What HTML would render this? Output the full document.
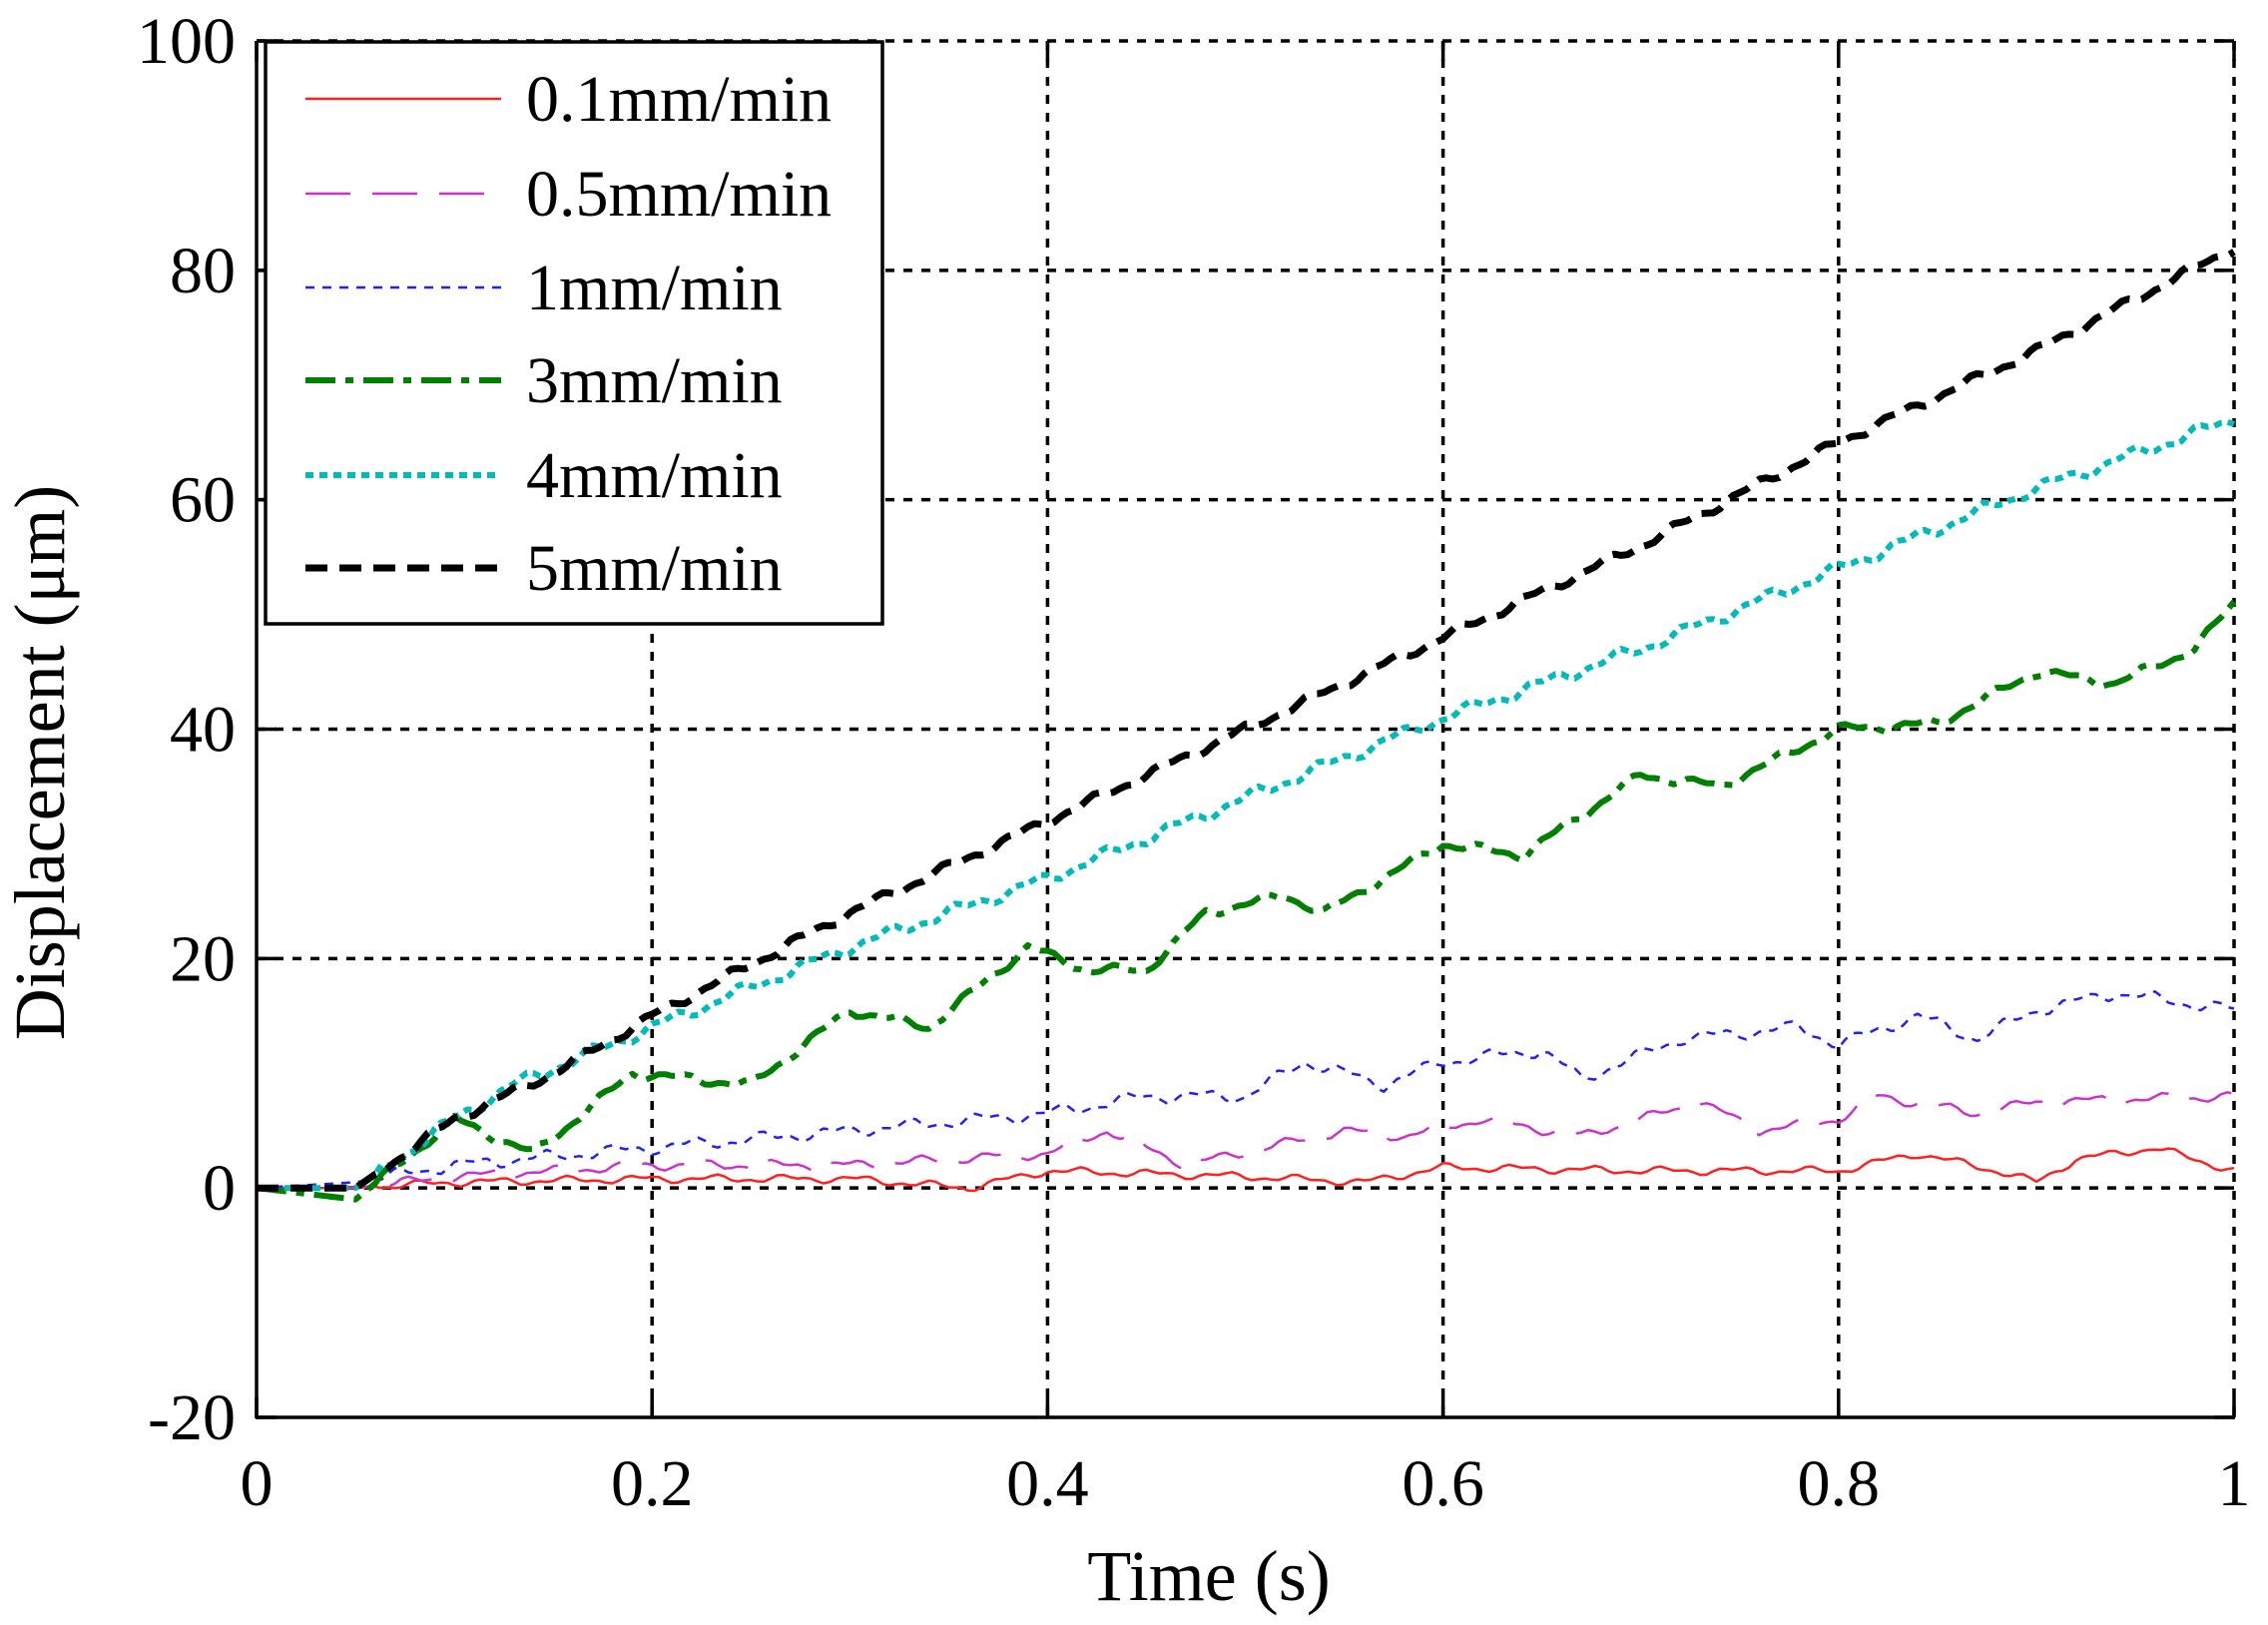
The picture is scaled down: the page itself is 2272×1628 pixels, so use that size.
<!DOCTYPE html>
<html><head><meta charset="utf-8"><style>
html,body{margin:0;padding:0;background:#fff}
svg text{font-family:"Liberation Serif",serif;fill:#000}
</style></head><body>
<svg id="s" width="2272" height="1623" viewBox="0 0 2272 1623" xmlns="http://www.w3.org/2000/svg">
<rect width="2272" height="1623" fill="#fff"/>
<g id="grid" stroke="#000" stroke-width="3.5" stroke-dasharray="9 9" fill="none"></g>
<g id="series" fill="none" stroke-linejoin="round"></g>
<g stroke="#000" stroke-width="3.5" fill="none">
<line x1="257" y1="41" x2="257" y2="1421"/>
<line x1="256" y1="1420" x2="2239" y2="1420"/>
</g>
<g id="ticks" stroke="#000" stroke-width="3.5"></g>
<g id="labels" font-size="66"></g>
<text x="1211" y="1603" font-size="72" text-anchor="middle">Time (s)</text>
<text transform="translate(64,764) rotate(-90)" font-size="72" text-anchor="middle">Displacement (μm)</text>
<rect x="266" y="42" width="618" height="583" fill="#fff" stroke="#000" stroke-width="3.5"/>
<g id="legend" font-size="66"></g>
</svg>
<script>
var L=257,R=2238,T=41,B=1420;
function X(t){return L+t*(R-L);}
function Y(v){return B-(v+20)*(B-T)/120;}
var ns="http://www.w3.org/2000/svg";
function el(p,n,a,txt){var e=document.createElementNS(ns,n);for(var k in a)e.setAttribute(k,a[k]);if(txt!=null)e.textContent=txt;document.getElementById(p).appendChild(e);return e;}
for(var i=1;i<=5;i++){var x=X(i*0.2);el("grid","line",{x1:x,y1:T,x2:x,y2:B});}
for(var v=0;v<=100;v+=20){var y=Y(v);el("grid","line",{x1:L,y1:y,x2:R,y2:y});}
for(var i=0;i<=5;i++){var x=X(i*0.2);el("ticks","line",{x1:x,y1:B,x2:x,y2:B-20});el("ticks","line",{x1:x,y1:T,x2:x,y2:T+20});
 el("labels","text",{x:x,y:1508,"text-anchor":"middle"},["0","0.2","0.4","0.6","0.8","1"][i]);}
for(var v=-20;v<=100;v+=20){var y=Y(v);el("ticks","line",{x1:L,y1:y,x2:L+20,y2:y});el("ticks","line",{x1:R,y1:y,x2:R-20,y2:y});
 el("labels","text",{x:236,y:y+22,"text-anchor":"end"},String(v));}
var S=[
{c:"#ff2020",w:2.5,d:"",n:0.25,lab:"0.1mm/min",p:[[0,0],[0.05,0],[0.1,0.5],[0.2,0.8],[0.3,0.8],[0.36,0],[0.4,1.5],[0.5,1],[0.56,0.5],[0.6,1.8],[0.7,1.5],[0.8,1.5],[0.84,3],[0.88,1.5],[0.9,0.5],[0.92,2.5],[0.96,3.5],[1,1.5]]},
{c:"#cc33cc",w:2.5,d:"45 22",n:0.3,lab:"0.5mm/min",p:[[0,0],[0.05,0],[0.1,1],[0.2,2],[0.3,2],[0.4,3],[0.43,5],[0.47,2],[0.55,5],[0.58,4.5],[0.62,6],[0.67,4.5],[0.73,7.5],[0.76,5],[0.8,6],[0.82,8],[0.87,6.5],[0.9,7.5],[1,8]]},
{c:"#2020ff",w:2.5,d:"9 8",n:0.4,lab:"1mm/min",p:[[0,0],[0.05,0.5],[0.1,2],[0.2,3.5],[0.3,5],[0.4,6.5],[0.45,8],[0.5,8],[0.53,11],[0.57,9],[0.6,11],[0.65,12],[0.67,9.5],[0.72,13],[0.78,14],[0.8,12.5],[0.84,15],[0.87,13],[0.9,15.5],[0.94,17],[1,15.5]]},
{c:"#008000",w:6,d:"30 10 8 10",n:0.3,lab:"3mm/min",p:[[0,0],[0.05,-1],[0.1,6],[0.14,3],[0.19,10],[0.25,9],[0.3,15.5],[0.34,14],[0.39,21],[0.42,19],[0.45,19],[0.48,24],[0.52,25.5],[0.54,24],[0.57,27],[0.6,30],[0.64,29],[0.7,36],[0.74,35],[0.8,40],[0.85,40.5],[0.9,45],[0.94,44],[0.98,47],[1,51]]},
{c:"#00bbbb",w:6,d:"8 6",n:0.4,lab:"4mm/min",p:[[0,0],[0.05,0],[0.1,6],[0.13,9],[0.2,14],[0.3,21],[0.4,27],[0.5,34],[0.6,41],[0.7,47],[0.8,54],[0.9,61],[1,67]]},
{c:"#000",w:7,d:"22 12",n:0.3,lab:"5mm/min",p:[[0,0],[0.05,0],[0.1,6],[0.15,10],[0.2,15],[0.3,24],[0.4,32],[0.5,40],[0.6,48],[0.7,56],[0.8,65],[0.9,73],[1,82]]}
];
S.forEach(function(s,k){
 var pts=[],N=300;
 for(var i=0;i<=N;i++){var t=i/N,p=s.p,j=0;while(j<p.length-2&&p[j+1][0]<t)j++;
  var a=p[j],b=p[j+1],f=(t-a[0])/(b[0]-a[0]);var v=a[1]+f*(b[1]-a[1]);
  if(t>0.06)v+=s.n*(Math.sin(t*170+k)+0.6*Math.sin(t*410+2*k));
  pts.push(X(t).toFixed(1)+","+Y(v).toFixed(1));}
 var a={points:pts.join(" "),stroke:s.c,"stroke-width":s.w};if(s.d)a["stroke-dasharray"]=s.d;
 el("series","polyline",a);
 var ly=[99,194,288,381,476,569][k];
 var la={x1:306,y1:ly,x2:502,y2:ly,stroke:s.c,"stroke-width":s.w};if(s.d)la["stroke-dasharray"]=s.d;
 el("legend","line",la);
 el("legend","text",{x:527,y:ly+22},s.lab);
});
</script>
</body></html>
